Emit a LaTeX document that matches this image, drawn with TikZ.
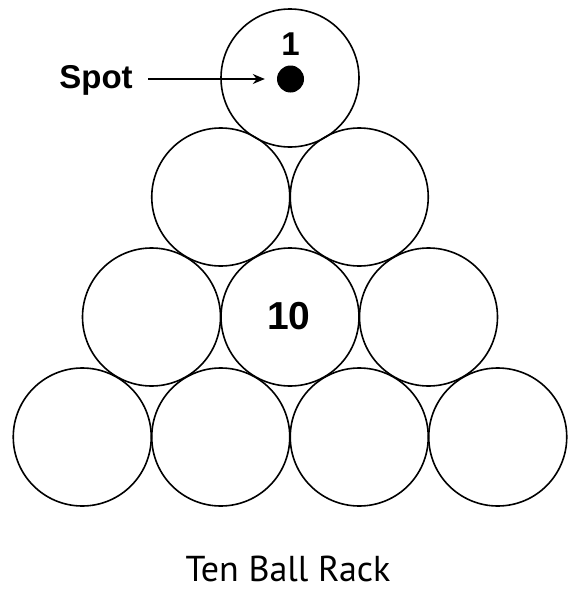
\documentclass[tikz,border=0pt]{standalone}
\usepackage{fontspec}
\setmainfont{Liberation Sans}
\newfontfamily\capfont{PT Sans}
\usetikzlibrary{arrows.meta}
\begin{document}
\begin{tikzpicture}[x=1pt,y=-1pt,
  ball/.style={circle,draw,line width=1.6pt,minimum size=138pt,inner sep=0pt},
  lab/.style={font=\bfseries\fontsize{33}{33}\selectfont},
  spotdot/.style={circle,fill=black,minimum size=27pt,inner sep=0pt}]
\useasboundingbox (0,0) rectangle (587,608);
\def\dx{69.25}
% row 1
\node[ball] (b1) at (290,78) {};
% row 2
\node[ball] (b2) at (290-\dx,197) {};
\node[ball] (b3) at (290+\dx,197) {};
% row 3
\node[ball] (b4) at (290-2*\dx,317) {};
\node[ball] (b5) at (290,317) {};
\node[ball] (b6) at (290+2*\dx,317) {};
% row 4
\node[ball] (b7) at (290-3*\dx,437) {};
\node[ball] (b8) at (290-\dx,437) {};
\node[ball] (b9) at (290+\dx,437) {};
\node[ball] (b10) at (290+3*\dx,437) {};
% labels
\node[lab] (one) at (290.5,44) {1};
\node[lab,font=\bfseries\fontsize{39}{39}\selectfont] (ten) at (289,316) {10};
\node[spotdot] (spot) at (290.5,79) {};
\node[lab,anchor=base] (spotlab) at (96,88) {Spot};
\coordinate (arrs) at (148,79);
\draw[line width=1.3pt,shorten >=12pt,-{Stealth[length=12pt,width=10pt]}] (arrs) -- (spot.west);
\node[font=\capfont\fontsize{36}{36}\selectfont,anchor=base] (cap) at (288,581) {Ten Ball Rack};
\end{tikzpicture}
\end{document}
